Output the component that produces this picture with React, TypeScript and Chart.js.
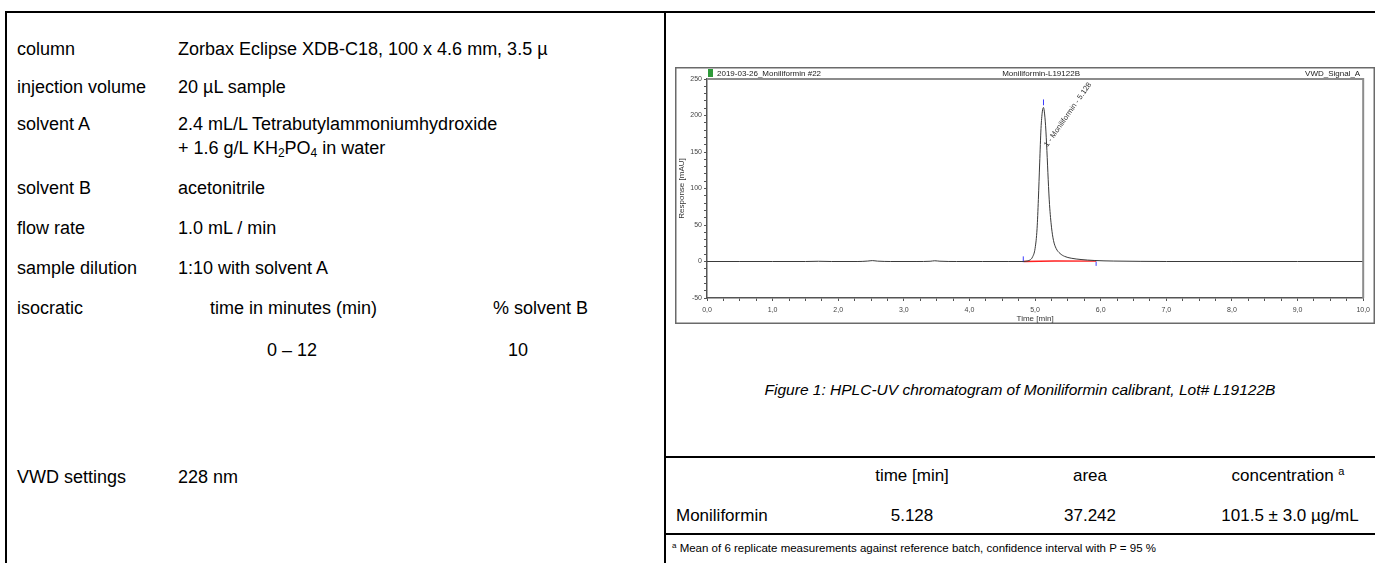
import React, { useEffect, useRef } from "react";
import { Chart, registerables } from "chart.js";

Chart.register(...registerables);

// ---- chromatogram data (time in min, response in mAU) ----
const TIME_MIN = [
  0, 0.5, 1.0, 1.5, 1.7, 1.9, 2.3, 2.45, 2.52, 2.6, 2.8, 3.2, 3.4, 3.47, 3.55, 3.8,
  4.2, 4.6, 4.8, 4.86, 4.92, 4.96, 5.0, 5.03, 5.05, 5.07, 5.09, 5.11, 5.128, 5.14,
  5.16, 5.18, 5.2, 5.22, 5.25, 5.28, 5.32, 5.38, 5.45, 5.55, 5.7, 5.9, 6.2, 6.6,
  7.0, 8.0, 9.0, 10.0,
];
const RESPONSE_MAU = [
  0, 0, 0, 0, 0.3, 0, 0, 0.6, 1.2, 0.5, 0, 0, 0.3, 1.0, 0.4, 0,
  0, 0, 0, 0.4, 2, 6, 18, 45, 85, 135, 182, 205, 211, 206,
  186, 152, 112, 78, 47, 29, 18, 11, 7, 4.5, 2.7, 1.4, 0.6, 0.2,
  0, 0, 0, 0,
];
// integration baseline (red)
const BASELINE_TIME = [4.83, 5.3, 5.93];
const BASELINE_MAU = [0, 0.7, 0.4];
// peak delimiter marks (blue)
const MARK_TIME = [4.82, 5.128, 5.93];
const MARK_LOW = [-1, 214, -6];
const MARK_HIGH = [7, 222, 0];
// peak label
const PEAK_LABEL = "1 - Moniliformin - 5.128";
const PEAK_LABEL_TIME = 5.165;
const PEAK_LABEL_MAU = 158;

const X_TICK_VALUES = [0, 1, 2, 3, 4, 5, 6, 7, 8, 9, 10];
const X_TICK_LABELS = ["0,0", "1,0", "2,0", "3,0", "4,0", "5,0", "6,0", "7,0", "8,0", "9,0", "10,0"];
const Y_TICK_VALUES = [-50, 0, 50, 100, 150, 200, 250];
const Y_TICK_LABELS = ["-50", "0", "50", "100", "150", "200", "250"];

const HEADER_LEFT = "2019-03-26_Moniliformin #22";
const HEADER_CENTER = "Moniliformin-L19122B";
const HEADER_RIGHT = "VWD_Signal_A";

// ---- method table ----
const METHOD_LABELS = ["column", "injection volume", "solvent A", "solvent B", "flow rate", "sample dilution", "isocratic", "VWD settings"];
const RESULT_HEADERS = ["time [min]", "area", "concentration"];
const RESULT_ROW = ["Moniliformin", "5.128", "37.242", "101.5 ± 3.0 µg/mL"];

const FONT = '"Liberation Sans", Arial, Helvetica, sans-serif';

function Chromatogram() {
  const ref = useRef<HTMLCanvasElement>(null);
  useEffect(() => {
    const canvas = ref.current;
    if (!canvas) return;
    const decor = {
      id: "decor",
      afterDraw(chart: any) {
        const { ctx, chartArea: a, width, height } = chart;
        ctx.save();
        ctx.strokeStyle = "#6a6a6a";
        ctx.lineWidth = 1.5;
        ctx.strokeRect(0.75, 0.75, width - 1.5, height - 1.5);
        ctx.strokeStyle = "#8c8c8c";
        ctx.lineWidth = 2;
        ctx.beginPath();
        ctx.moveTo(a.left, a.top);
        ctx.lineTo(a.right, a.top);
        ctx.lineTo(a.right, a.bottom);
        ctx.stroke();
        ctx.fillStyle = "#2f9a3a";
        ctx.fillRect(a.left + 1, 2, 5, 8);
        ctx.fillStyle = "#222";
        ctx.font = `8px ${FONT}`;
        ctx.textBaseline = "middle";
        ctx.textAlign = "left";
        ctx.fillText(HEADER_LEFT, a.left + 10, 6.5);
        ctx.textAlign = "center";
        ctx.fillText(HEADER_CENTER, (a.left + a.right) / 2 + 6, 6.5);
        ctx.textAlign = "right";
        ctx.fillText(HEADER_RIGHT, a.right - 3, 6.5);
        const xs = chart.scales.x;
        const ys = chart.scales.y;
        const px = xs.getPixelForValue(PEAK_LABEL_TIME);
        const py = ys.getPixelForValue(PEAK_LABEL_MAU);
        ctx.translate(px, py);
        ctx.rotate((-55 * Math.PI) / 180);
        ctx.textAlign = "left";
        ctx.font = `7.5px ${FONT}`;
        ctx.fillStyle = "#333";
        ctx.fillText(PEAK_LABEL, 0, 0);
        ctx.restore();
      },
    };

    const markData: any[] = [];
    MARK_TIME.forEach((t, i) => {
      markData.push({ x: t, y: MARK_LOW[i] }, { x: t, y: MARK_HIGH[i] }, { x: t + 0.001, y: null });
    });

    const chart = new Chart(canvas, {
      type: "line",
      data: {
        datasets: [
          {
            label: "signal",
            data: TIME_MIN.map((t, i) => ({ x: t, y: RESPONSE_MAU[i] })),
            borderColor: "#3a3a3a",
            borderWidth: 1,
            pointRadius: 0,
            cubicInterpolationMode: "monotone",
          },
          {
            label: "baseline",
            data: BASELINE_TIME.map((t, i) => ({ x: t, y: BASELINE_MAU[i] })),
            borderColor: "#ff1f1f",
            borderWidth: 1.3,
            pointRadius: 0,
          },
          {
            label: "marks",
            data: markData,
            borderColor: "#3b3bff",
            borderWidth: 1,
            pointRadius: 0,
            spanGaps: false,
          },
        ],
      },
      options: {
        animation: false,
        responsive: false,
        maintainAspectRatio: false,
        events: [],
        layout: { padding: { top: 12, right: 8, left: 0, bottom: 0 } },
        plugins: { legend: { display: false }, tooltip: { enabled: false } },
        scales: {
          x: {
            type: "linear",
            min: 0,
            max: 10,
            afterFit: (s: any) => { s.height = 26; },
            afterBuildTicks: (s: any) => {
              const t: any[] = [];
              for (let k = 0; k <= 40; k++) t.push({ value: k / 4 });
              s.ticks = t;
            },
            ticks: {
              autoSkip: false,
              maxRotation: 0,
              padding: 5,
              color: "#444",
              font: { family: FONT, size: 7 },
              callback: (v: any) => {
                const i = X_TICK_VALUES.indexOf(Number(v));
                return i >= 0 ? X_TICK_LABELS[i] : "";
              },
            },
            grid: { drawOnChartArea: false, drawTicks: true, tickLength: 3, color: "#555" },
            border: { display: true, color: "#555", width: 1.5 },
            title: { display: true, text: "Time [min]", color: "#333", font: { family: FONT, size: 8 }, padding: 0 },
          },
          y: {
            type: "linear",
            min: -50,
            max: 250,
            afterFit: (s: any) => { s.width = 32; },
            afterBuildTicks: (s: any) => {
              const t: any[] = [];
              for (let k = -50; k <= 250; k += 10) t.push({ value: k });
              s.ticks = t;
            },
            ticks: {
              autoSkip: false,
              padding: 2,
              color: "#444",
              font: { family: FONT, size: 7 },
              callback: (v: any) => {
                const i = Y_TICK_VALUES.indexOf(Number(v));
                return i >= 0 ? Y_TICK_LABELS[i] : "";
              },
            },
            grid: { drawOnChartArea: false, drawTicks: true, tickLength: 3, color: "#555" },
            border: { display: true, color: "#555", width: 1.5 },
            title: { display: true, text: "Response [mAU]", color: "#333", font: { family: FONT, size: 8 }, padding: { top: 2, bottom: 0 } },
          },
        },
      } as any,
      plugins: [decor],
    });
    return () => chart.destroy();
  }, []);
  return <canvas ref={ref} width={700} height={257} style={{ position: "absolute", left: 675, top: 67, width: 700, height: 257 }} />;
}

const T = (p: { x: number; y: number; children: any; size?: number; align?: "left" | "center"; italic?: boolean; w?: number }) => {
  const size = p.size ?? 18;
  const style: any = {
    position: "absolute",
    top: p.y - Math.round(size * 1.2) / 2,
    fontSize: size,
    lineHeight: `${Math.round(size * 1.2)}px`,
    whiteSpace: "nowrap",
    fontFamily: FONT,
    fontStyle: p.italic ? "italic" : "normal",
    color: "#000",
  };
  if (p.align === "center") {
    style.left = p.x - (p.w ?? 400) / 2;
    style.width = p.w ?? 400;
    style.textAlign = "center";
  } else {
    style.left = p.x;
  }
  return <div style={style}>{p.children}</div>;
};

const line = (left: number, top: number, width: number, height: number) => (
  <div style={{ position: "absolute", left, top, width, height, background: "#000" }} />
);

const sub = { fontSize: 12, verticalAlign: "-3px", lineHeight: 0 };

export default function App() {
  const LX = 17;
  const VX = 178;
  return (
    <div style={{ position: "fixed", left: 0, top: 0, width: 1375, height: 563, overflow: "hidden", background: "#fff" }}>
      {line(5, 11, 1400, 2)}
      {line(5, 11, 2, 600)}
      {line(664, 11, 2, 600)}
      {line(664, 456, 720, 2)}
      {line(664, 533, 720, 2)}

      <T x={LX} y={49}>{METHOD_LABELS[0]}</T>
      <T x={VX} y={49}>Zorbax Eclipse XDB-C18, 100 x 4.6 mm, 3.5 µ</T>
      <T x={LX} y={87}>{METHOD_LABELS[1]}</T>
      <T x={VX} y={87}>20 µL sample</T>
      <T x={LX} y={124}>{METHOD_LABELS[2]}</T>
      <T x={VX} y={124}>2.4 mL/L Tetrabutylammoniumhydroxide</T>
      <T x={VX} y={148}>
        + 1.6 g/L KH<sub style={sub}>2</sub>PO<sub style={sub}>4</sub> in water
      </T>
      <T x={LX} y={188}>{METHOD_LABELS[3]}</T>
      <T x={VX} y={188}>acetonitrile</T>
      <T x={LX} y={228}>{METHOD_LABELS[4]}</T>
      <T x={VX} y={228}>1.0 mL / min</T>
      <T x={LX} y={268}>{METHOD_LABELS[5]}</T>
      <T x={VX} y={268}>1:10 with solvent A</T>
      <T x={LX} y={308}>{METHOD_LABELS[6]}</T>
      <T x={210} y={308}>time in minutes (min)</T>
      <T x={493} y={308}>% solvent B</T>
      <T x={267} y={350}>0 – 12</T>
      <T x={508} y={350}>10</T>
      <T x={LX} y={477}>{METHOD_LABELS[7]}</T>
      <T x={VX} y={477}>228 nm</T>

      <Chromatogram />

      <T x={1020} y={389} size={15.5} italic align="center" w={680}>
        Figure 1: HPLC-UV chromatogram of Moniliformin calibrant, Lot# L19122B
      </T>

      <T x={912} y={476} size={17} align="center" w={200}>{RESULT_HEADERS[0]}</T>
      <T x={1090} y={476} size={17} align="center" w={200}>{RESULT_HEADERS[1]}</T>
      <T x={1288} y={476} size={17} align="center" w={220}>
        {RESULT_HEADERS[2]} <sup style={{ fontSize: 11, verticalAlign: "6px", lineHeight: 0 }}>a</sup>
      </T>
      <T x={676} y={516} size={17}>{RESULT_ROW[0]}</T>
      <T x={912} y={516} size={17} align="center" w={200}>{RESULT_ROW[1]}</T>
      <T x={1090} y={516} size={17} align="center" w={200}>{RESULT_ROW[2]}</T>
      <T x={1290} y={516} size={17} align="center" w={220}>{RESULT_ROW[3]}</T>

      <T x={672} y={548} size={11.5}>
        <sup style={{ fontSize: 8, verticalAlign: "4px", lineHeight: 0 }}>a</sup> Mean of 6 replicate measurements against reference batch, confidence interval with P = 95 %
      </T>
    </div>
  );
}
